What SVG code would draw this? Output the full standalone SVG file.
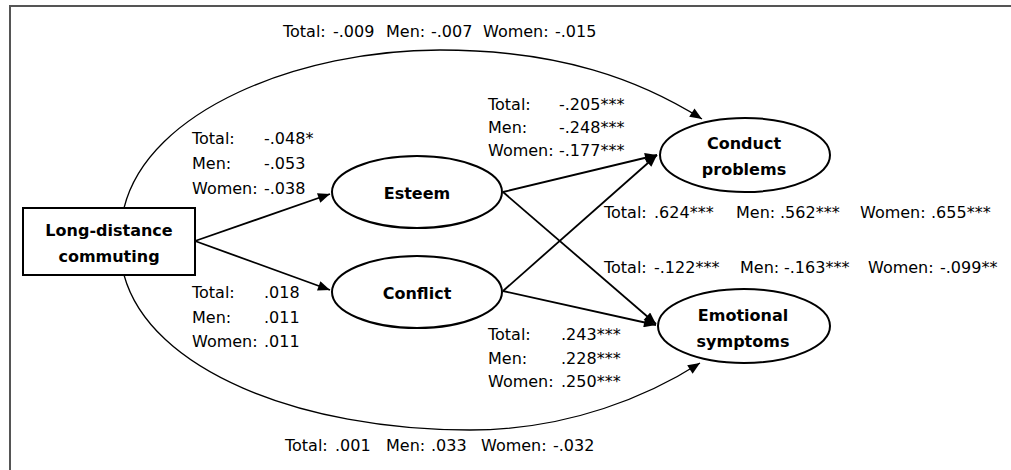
<svg xmlns="http://www.w3.org/2000/svg" width="1011" height="470" viewBox="0 0 1011 470">
<defs>
<marker id="ah" viewBox="0 0 12 10" refX="12" refY="5" markerWidth="13" markerHeight="10" markerUnits="userSpaceOnUse" orient="auto">
<path d="M0,0 L12,5 L0,10 Z" fill="#000"/>
</marker>
<style>
.frame{fill:none;stroke:#555;stroke-width:2}
.node{fill:#fff;stroke:#000;stroke-width:2}
.nl{font-family:"DejaVu Sans",sans-serif;font-weight:bold;font-size:16px;text-anchor:middle;fill:#000}
.lb{font-family:"DejaVu Sans",sans-serif;font-size:16px;fill:#000}
.e{fill:none;stroke:#000;stroke-width:1.8;marker-end:url(#ah)}
.c{fill:none;stroke:#000;stroke-width:1.3;marker-end:url(#ah)}
</style>
</defs>
<rect width="1011" height="470" fill="#fff"/>
<path class="frame" d="M10,471 V6 H1012"/>
<g id="connectors">
<path class="c" d="M124,208 C148,110 300,50 440,50 C560,50 640,80 702,119"/>
<path class="c" d="M124,275 C150,370 300,430 470,430 C570,430 650,395 700,363"/>
<path class="e" d="M195,241 L330,194"/>
<path class="e" d="M195,241 L330,290"/>
<path class="e" d="M503,192 L657,155"/>
<path class="e" d="M503,192 L656,324"/>
<path class="e" d="M503,291 L657,155"/>
<path class="e" d="M503,291 L656,325"/>
</g>
<g id="node-commuting">
<rect class="node" x="23" y="208" width="172" height="67"/>
<text class="nl" x="109" y="236">Long-distance</text>
<text class="nl" x="109" y="262">commuting</text>
</g>
<g id="node-esteem">
<ellipse class="node" cx="417" cy="192" rx="85" ry="36"/>
<text class="nl" x="417" y="199">Esteem</text>
</g>
<g id="node-conflict">
<ellipse class="node" cx="417" cy="292" rx="85" ry="36"/>
<text class="nl" x="417" y="299">Conflict</text>
</g>
<g id="node-conduct">
<ellipse class="node" cx="745" cy="155" rx="85" ry="37"/>
<text class="nl" x="744" y="149">Conduct</text>
<text class="nl" x="744" y="175">problems</text>
</g>
<g id="node-emotional">
<ellipse class="node" cx="744" cy="326" rx="86" ry="37"/>
<text class="nl" x="743" y="321">Emotional</text>
<text class="nl" x="743" y="347">symptoms</text>
</g>
<g id="labels">
<text class="lb" y="37"><tspan x="283">Total:</tspan><tspan x="333">-.009</tspan><tspan x="386">Men:</tspan><tspan x="431">-.007</tspan><tspan x="483">Women:</tspan><tspan x="555">-.015</tspan></text>
<text class="lb" y="451"><tspan x="285">Total:</tspan><tspan x="335">.001</tspan><tspan x="386">Men:</tspan><tspan x="431">.033</tspan><tspan x="481">Women:</tspan><tspan x="553">-.032</tspan></text>
<text class="lb" y="218"><tspan x="604">Total:</tspan><tspan x="654">.624***</tspan><tspan x="736">Men:</tspan><tspan x="780">.562***</tspan><tspan x="860">Women:</tspan><tspan x="931">.655***</tspan></text>
<text class="lb" y="273"><tspan x="604">Total:</tspan><tspan x="654">-.122***</tspan><tspan x="740">Men:</tspan><tspan x="784">-.163***</tspan><tspan x="868">Women:</tspan><tspan x="940">-.099**</tspan></text>
<text class="lb" y="144"><tspan x="192">Total:</tspan><tspan x="264">-.048*</tspan></text>
<text class="lb" y="169"><tspan x="192">Men:</tspan><tspan x="264">-.053</tspan></text>
<text class="lb" y="194"><tspan x="192">Women:</tspan><tspan x="264">-.038</tspan></text>
<text class="lb" y="298"><tspan x="192">Total:</tspan><tspan x="264">.018</tspan></text>
<text class="lb" y="323"><tspan x="192">Men:</tspan><tspan x="264">.011</tspan></text>
<text class="lb" y="347"><tspan x="192">Women:</tspan><tspan x="264">.011</tspan></text>
<text class="lb" y="110"><tspan x="488">Total:</tspan><tspan x="559">-.205***</tspan></text>
<text class="lb" y="133"><tspan x="488">Men:</tspan><tspan x="559">-.248***</tspan></text>
<text class="lb" y="156"><tspan x="488">Women:</tspan><tspan x="559">-.177***</tspan></text>
<text class="lb" y="340"><tspan x="488">Total:</tspan><tspan x="561">.243***</tspan></text>
<text class="lb" y="364"><tspan x="488">Men:</tspan><tspan x="561">.228***</tspan></text>
<text class="lb" y="387"><tspan x="488">Women:</tspan><tspan x="561">.250***</tspan></text>
</g>
</svg>
